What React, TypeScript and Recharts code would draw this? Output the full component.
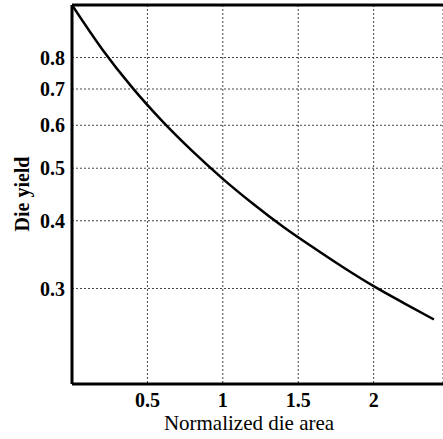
import React from 'react';
import { LineChart, Line, XAxis, YAxis, CartesianGrid, ReferenceLine, Label } from 'recharts';

const areas = [0, 0.2, 0.4, 0.6, 0.8, 1.0, 1.2, 1.4, 1.6, 1.8, 2.0, 2.2, 2.4];
const yields = [1.0, 0.829, 0.704, 0.61, 0.537, 0.478, 0.43, 0.39, 0.357, 0.328, 0.303, 0.282, 0.263];
const xTicks = [0.5, 1, 1.5, 2];
const yTicks = [0.3, 0.4, 0.5, 0.6, 0.7, 0.8];

const data = areas.map((a, i) => ({ area: a, y: yields[i] }));

const FONT = "'Liberation Serif', serif";

const XTick = (props: any) => {
  const { x, y, payload } = props;
  return (
    <text x={x} y={y + 23} textAnchor="middle" fill="#000" style={{ fontFamily: FONT, fontSize: 20, fontWeight: 'bold' }}>
      {String(payload.value)}
    </text>
  );
};

const YTick = (props: any) => {
  const { x, y, payload } = props;
  return (
    <text x={65} y={y + 7} textAnchor="end" fill="#000" style={{ fontFamily: FONT, fontSize: 20, fontWeight: 'bold' }}>
      {String(payload.value)}
    </text>
  );
};

export default function App() {
  return (
    <div style={{ position: 'absolute', left: 0, top: 0, width: 443, height: 439, background: '#fff' }}>
      <LineChart width={443} height={439} data={data} margin={{ top: 5, right: 0, bottom: 0, left: 0 }}>
        <CartesianGrid stroke="#444" strokeDasharray="2 2" strokeWidth={1} />
        <XAxis
          dataKey="area"
          type="number"
          domain={[0, 2.46]}
          ticks={xTicks}
          allowDataOverflow
          height={55}
          tickLine={false}
          tickSize={0}
          tickMargin={0}
          axisLine={{ stroke: '#000', strokeWidth: 3 }}
          tick={<XTick />}
        >
          <Label
            content={({ viewBox }: any) => (
              <text x={249} y={viewBox.y + 46} textAnchor="middle" fill="#000" style={{ fontFamily: FONT, fontSize: 21 }}>
                Normalized die area
              </text>
            )}
          />
        </XAxis>
        <YAxis
          type="number"
          scale="log"
          domain={[0.2, 1]}
          ticks={yTicks}
          allowDataOverflow
          width={72}
          tickLine={false}
          tickSize={0}
          tickMargin={0}
          axisLine={{ stroke: '#000', strokeWidth: 3 }}
          tick={<YTick />}
        >
          <Label
            content={() => (
              <text
                x={29}
                y={194}
                transform={`rotate(-90 29 194)`}
                textAnchor="middle"
                fill="#000"
                style={{ fontFamily: FONT, fontSize: 20, fontWeight: 'bold' }}
              >
                Die yield
              </text>
            )}
          />
        </YAxis>
        <ReferenceLine y={1} stroke="#000" strokeWidth={3} ifOverflow="visible" />
        <Line
          type="monotone"
          dataKey="y"
          stroke="#000"
          strokeWidth={2.5}
          dot={false}
          isAnimationActive={false}
        />
      </LineChart>
    </div>
  );
}
